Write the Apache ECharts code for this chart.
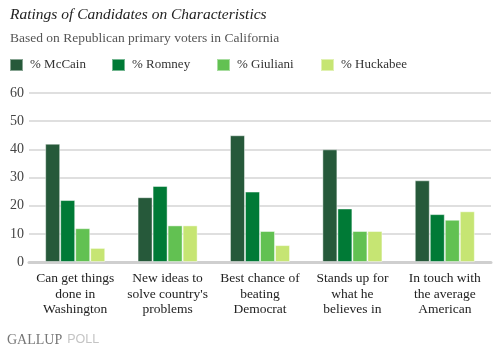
<!DOCTYPE html>
<html>
<head>
<meta charset="utf-8">
<script src="https://cdn.jsdelivr.net/npm/echarts@6/dist/echarts.min.js"></script>
<style>
  html, body { margin: 0; padding: 0; background: #fff; }
  #chart { width: 498px; height: 349px; }
</style>
</head>
<body>
<div id="chart"></div>
<script>
// Characteristics asked about (line breaks as printed under the axis)
var categories = [
  'Can get things\ndone in\nWashington',
  'New ideas to\nsolve country\'s\nproblems',
  'Best chance of\nbeating\nDemocrat',
  'Stands up for\nwhat he\nbelieves in',
  'In touch with\nthe average\nAmerican'
];
var seriesNames = ['% McCain', '% Romney', '% Giuliani', '% Huckabee'];
var mccain   = [42, 23, 45, 40, 29];
var romney   = [22, 27, 25, 19, 17];
var giuliani = [12, 13, 11, 11, 15];
var huckabee = [5, 13, 6, 11, 18];
var yTicks = [0, 10, 20, 30, 40, 50, 60];

var colors = ['#26593a', '#007a36', '#62c152', '#c6e573'];
var serif = '"Liberation Serif", "Times New Roman", serif';
var legendLeft = [9, 111, 216, 320];

var chart = echarts.init(document.getElementById('chart'), null, { renderer: 'canvas' });

function barSeries(name, data, color) {
  return {
    name: name,
    type: 'bar',
    data: data,
    barGap: '0%',
    barCategoryGap: '35%',
    itemStyle: { color: color, borderColor: 'rgba(255,255,255,0.45)', borderWidth: 1 },
    emphasis: { disabled: true }
  };
}

// one legend block per candidate so the entries sit on an even spacing
var legends = seriesNames.map(function (name, i) {
  return {
    left: legendLeft[i], top: 58,
    padding: 0,
    icon: 'rect',
    itemWidth: 13, itemHeight: 12,
    selectedMode: false,
    data: [name],
    textStyle: { fontFamily: serif, fontSize: 13, color: '#333', padding: [0, 0, 0, 2] }
  };
});

chart.setOption({
  animation: false,
  backgroundColor: '#ffffff',
  color: colors,
  title: [
    {
      text: 'Ratings of Candidates on Characteristics',
      left: 10, top: 7, padding: 0,
      textStyle: { fontFamily: serif, fontStyle: 'italic', fontWeight: 'normal', fontSize: 15.5, color: '#222' }
    },
    {
      text: 'Based on Republican primary voters in California',
      left: 10, top: 31, padding: 0,
      textStyle: { fontFamily: serif, fontWeight: 'normal', fontSize: 13.5, color: '#555' }
    },
    {
      text: '{a|GALLUP} {b|POLL}',
      left: 7, top: 331, padding: 0,
      textStyle: {
        rich: {
          a: { fontFamily: serif, fontWeight: 'normal', fontSize: 14, color: '#777' },
          b: { fontFamily: '"Liberation Sans", Arial, sans-serif', fontWeight: 'normal', fontSize: 12.5, color: '#c4c4c4' }
        }
      }
    }
  ],
  legend: legends,
  grid: { left: 29, right: 7, top: 93, bottom: 87, containLabel: false },
  xAxis: {
    type: 'category',
    data: categories,
    axisLine: { show: true, lineStyle: { color: '#cfcfcf', width: 3 } },
    axisTick: { show: false },
    axisLabel: { fontFamily: serif, fontSize: 13.5, color: '#222', lineHeight: 15.5, margin: 9, interval: 0 }
  },
  yAxis: {
    type: 'value',
    min: yTicks[0], max: yTicks[yTicks.length - 1], interval: 10,
    axisLine: { show: false },
    axisTick: { show: false },
    splitLine: { lineStyle: { color: '#d4d4d4', width: 1.5 } },
    axisLabel: { fontFamily: serif, fontSize: 14, color: '#444', margin: 5 }
  },
  series: [
    barSeries(seriesNames[0], mccain, colors[0]),
    barSeries(seriesNames[1], romney, colors[1]),
    barSeries(seriesNames[2], giuliani, colors[2]),
    barSeries(seriesNames[3], huckabee, colors[3])
  ]
});
</script>
</body>
</html>
